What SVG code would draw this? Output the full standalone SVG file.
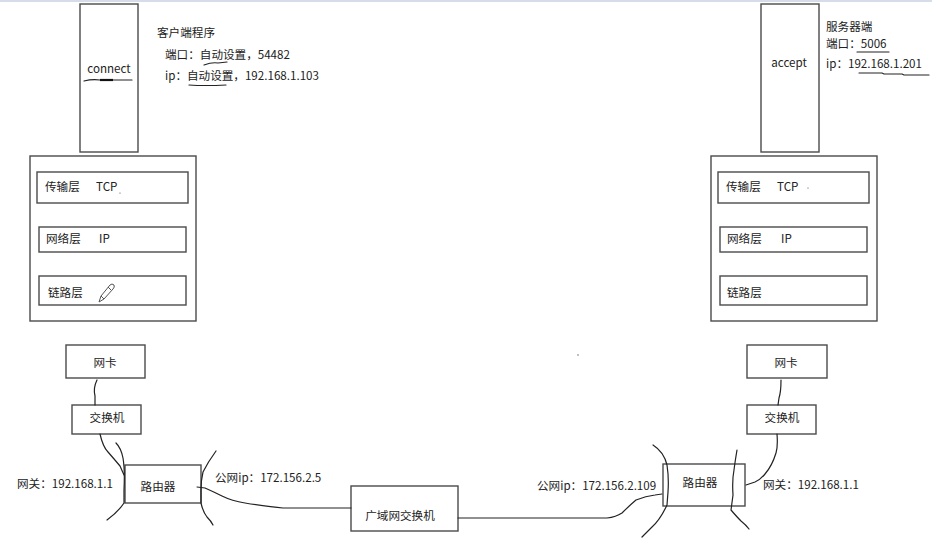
<svg xmlns="http://www.w3.org/2000/svg" width="932" height="544" viewBox="0 0 932 544">
<style>
.box{fill:#fff;stroke:#4a4a4a;stroke-width:1.4}
.t{font-family:"Noto Sans CJK SC","Noto Sans",sans-serif;font-size:11.6px;fill:#222}
.c{text-anchor:middle}
.w{fill:none;stroke:#222;stroke-width:1.2;stroke-linecap:round;stroke-linejoin:round}
</style>
<rect x="0" y="0" width="932" height="544" fill="#fff"/>
<rect x="0" y="0" width="932" height="2" fill="#d6dce8"/>

<g id="client-app">
<rect class="box" x="80" y="4" width="58" height="148"/>
<text class="t c" x="109" y="73">connect</text>
<path class="w" d="M84 81 Q92 79 100 80 L114 80 L132 80"/>
<path d="M100 80 L113 80" stroke="#111" stroke-width="2.2"/>
</g>

<g id="client-label">
<text class="t" x="157" y="37">客户端程序</text>
<text class="t" x="165" y="59">端口：自动设置，54482</text>
<text class="t" x="165" y="80">ip：自动设置，192.168.1.103</text>
<path class="w" d="M204 65 Q212 62 218 63 L227 62"/>
<path class="w" d="M189 85 Q205 86 226 85"/>
</g>

<g id="client-stack">
<rect class="box" x="30" y="156" width="166" height="165"/>
<rect class="box" x="37" y="172" width="151" height="31"/>
<text class="t" x="45" y="191">传输层</text>
<text class="t" x="96" y="191">TCP</text>
<circle cx="120" cy="193" r="0.6" fill="#444"/>
<rect class="box" x="39" y="227" width="147" height="25"/>
<text class="t" x="46" y="243">网络层</text>
<text class="t" x="99" y="243">IP</text>
<rect class="box" x="39" y="276" width="147" height="29"/>
<text class="t" x="48" y="297">链路层</text>
<g fill="none" stroke="#555" stroke-width="1">
<path d="M99 302 L101 296 L110 285 Q112 283 114 285 Q115 287 113 289 L104 299 Z"/>
<path d="M101 296 L104 299"/>
<path d="M108 287 L111 290"/>
</g>
</g>

<g id="server-app">
<rect class="box" x="761" y="4" width="58" height="148"/>
<text class="t c" x="789" y="67">accept</text>
</g>

<g id="server-label">
<text class="t" x="826" y="31">服务器端</text>
<text class="t" x="826" y="48">端口：5006</text>
<text class="t" x="826" y="68">ip：192.168.1.201</text>
<path class="w" d="M857 52 L889 52"/>
<path class="w" d="M859 73 L882 73 L884 74 L902 74 L904 75 L929 75"/>
</g>

<g id="server-stack">
<rect class="box" x="711" y="156" width="166" height="165"/>
<rect class="box" x="718" y="172" width="151" height="31"/>
<text class="t" x="726" y="191">传输层</text>
<text class="t" x="777" y="191">TCP</text>
<circle cx="808" cy="188" r="0.6" fill="#444"/>
<rect class="box" x="720" y="227" width="147" height="25"/>
<text class="t" x="727" y="243">网络层</text>
<text class="t" x="781" y="243">IP</text>
<rect class="box" x="720" y="276" width="147" height="29"/>
<text class="t" x="727" y="297">链路层</text>
</g>

<g id="client-nic">
<rect class="box" x="66" y="345" width="79" height="33"/>
<text class="t c" x="105" y="367">网卡</text>
</g>
<g id="client-switch">
<rect class="box" x="72" y="405" width="69" height="29"/>
<text class="t c" x="107" y="422">交换机</text>
</g>
<g id="client-router">
<rect class="box" x="125" y="465" width="76" height="38"/>
<text class="t c" x="158" y="491">路由器</text>
<path class="w" d="M116 443 Q121 448 123 458 Q125 470 124 490 L124 503 Q118 512 107 520"/>
<path class="w" d="M216 451 Q208 462 203 472 Q201 480 201 490 L201 503 Q203 512 207 517 Q211 521 213 525"/>
<text class="t" x="17" y="488">网关：192.168.1.1</text>
<text class="t" x="215" y="482">公网ip：172.156.2.5</text>
</g>

<g id="wan-switch">
<rect class="box" x="351" y="486" width="107" height="45"/>
<text class="t c" x="400" y="520">广域网交换机</text>
</g>

<g id="server-router">
<rect class="box" x="663" y="464" width="82" height="42"/>
<text class="t c" x="700" y="487">路由器</text>
<path class="w" d="M653 445 Q664 452 667 465 Q669 478 668 492 L667 505 Q660 520 652 527 Q646 533 642 537"/>
<path class="w" d="M737 450 Q735 462 734 470 Q732 480 733 495 L731 510 Q737 517 741 521 Q746 525 749 529"/>
<text class="t" x="537" y="490">公网ip：172.156.2.109</text>
<text class="t" x="763" y="489">网关：192.168.1.1</text>
</g>

<g id="server-nic">
<rect class="box" x="747" y="345" width="80" height="33"/>
<text class="t c" x="786" y="367">网卡</text>
</g>
<g id="server-switch">
<rect class="box" x="747" y="405" width="69" height="29"/>
<text class="t c" x="782" y="422">交换机</text>
</g>

<g id="connectors">
<path class="w" d="M97 380 Q93 388 95 396 L95 405"/>
<path class="w" d="M100 434 Q103 447 108 452 Q115 460 120 466 L124 475"/>
<path class="w" d="M197 487 L205 488 Q214 492 222 496 Q232 501 245 503 Q270 507 283 508 L351 508"/>
<path class="w" d="M458 518 L607 518 Q616 517 622 513 Q630 505 636 500 Q646 496 655 495 L662 494"/>
<path class="w" d="M781 380 Q781 392 779 398 L778 405"/>
<path class="w" d="M777 434 Q778 446 776 453 Q772 466 765 474 Q760 480 755 482 L746 485"/>
</g>
<circle cx="578" cy="355" r="0.7" fill="#555"/>
</svg>
